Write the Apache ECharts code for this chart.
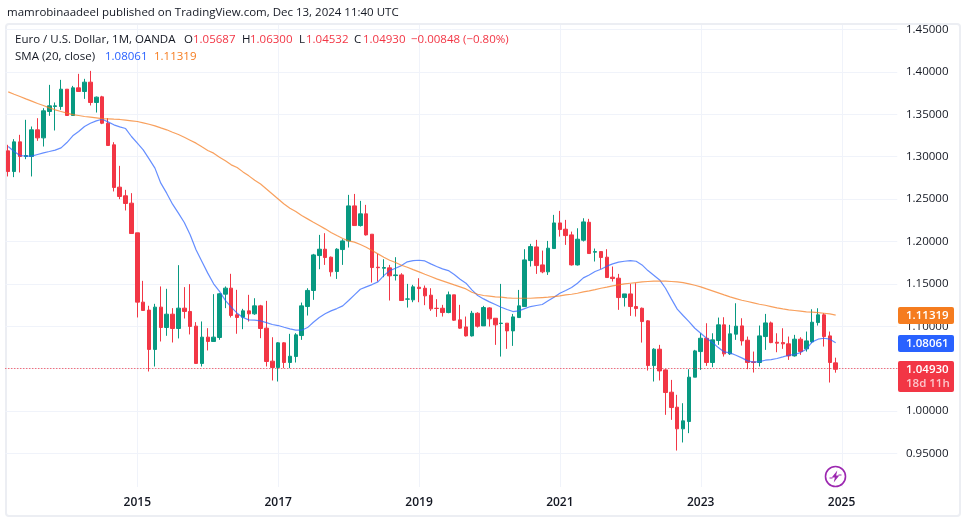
<!DOCTYPE html>
<html><head><meta charset="utf-8">
<style>html,body{margin:0;padding:0;background:#fff}#c{width:965px;height:523px}</style>
<script src="https://cdn.jsdelivr.net/npm/echarts@6/dist/echarts.min.js"></script>
</head><body><div id="c"></div>
<script>
const startYear = 2013, startMonth = 2, monthCount = 152;
const openValues = [1.3069,1.2825,1.3175,1.3002,1.3002,1.3317,1.3222,1.3533,1.3592,1.3592,
1.3796,1.3486,1.3812,1.3769,1.3879,1.3639,1.3706,1.3395,1.3140,1.2641,
1.2539,1.2452,1.2102,1.1285,1.1191,1.0727,1.1226,1.0986,1.1143,1.0974,
1.1214,1.1175,1.1002,1.0562,1.0872,1.0821,1.0868,1.1379,1.1450,1.1136,
1.1107,1.1182,1.1147,1.1241,1.0978,1.0589,1.0514,1.0805,1.0573,1.0644,
1.0891,1.1233,1.1422,1.1834,1.1909,1.1815,1.1646,1.1905,1.2007,1.2420,
1.2188,1.2326,1.2086,1.1697,1.1685,1.1689,1.1598,1.1606,1.1320,1.1312,
1.1461,1.1449,1.1367,1.1213,1.1213,1.1162,1.1371,1.1076,1.0993,1.0887,
1.1154,1.1005,1.1217,1.1095,1.1033,1.1037,1.0946,1.1103,1.1233,1.1775,
1.1936,1.1724,1.1642,1.1917,1.2219,1.2145,1.2078,1.1724,1.2015,1.2227,
1.1874,1.1881,1.1815,1.1579,1.1567,1.1339,1.1382,1.1233,1.1213,1.1064,
1.0537,1.0730,1.0486,1.0223,1.0046,0.9791,0.9877,1.0400,1.0702,1.0859,
1.0573,1.0832,1.1017,1.0675,1.0907,1.1005,1.0836,1.0581,1.0573,1.0879,
1.1040,1.0812,1.0808,1.0793,1.0651,1.0848,1.0734,1.0816,1.1044,1.1135,
1.0887,1.05687];
const closeValues = [1.2825,1.3175,1.3002,1.3014,1.3317,1.3222,1.3541,1.3600,1.3600,1.3796,
1.3486,1.3812,1.3769,1.3879,1.3639,1.3702,1.3395,1.3132,1.2637,1.2531,
1.2448,1.2094,1.1285,1.1187,1.0727,1.1226,1.0986,1.1143,1.0974,1.1214,
1.1175,1.0998,1.0562,1.0872,1.0821,1.0872,1.1383,1.1450,1.1128,1.1104,
1.1182,1.1147,1.1241,1.0974,1.0585,1.0514,1.0805,1.0573,1.0647,1.0899,
1.1241,1.1423,1.1842,1.1909,1.1811,1.1642,1.1909,1.2007,1.2420,1.2188,
1.2326,1.2078,1.1693,1.1691,1.1693,1.1595,1.1606,1.1304,1.1323,1.1465,
1.1445,1.1359,1.1206,1.1210,1.1162,1.1371,1.1072,1.0978,1.0887,1.1154,
1.1001,1.1221,1.1088,1.1017,1.1037,1.0946,1.1111,1.1241,1.1783,1.1940,
1.1716,1.1642,1.1921,1.2219,1.2141,1.2070,1.1724,1.2027,1.2231,1.1858,
1.1881,1.1811,1.1575,1.1563,1.1339,1.1382,1.1233,1.1209,1.1056,1.0537,
1.0730,1.0474,1.0219,1.0042,0.9791,0.9885,1.0400,1.0710,1.0859,1.0573,
1.0840,1.1017,1.0675,1.0911,1.1001,1.0828,1.0573,1.0573,1.0887,1.1040,
1.0808,1.0801,1.0793,1.0651,1.0848,1.0702,1.0828,1.1048,1.1135,1.0879,
1.0573,1.0493];
const highValues = [1.3140,1.3207,1.3258,1.3435,1.3356,1.3454,1.3572,1.3847,1.3639,1.3906,
1.3796,1.3835,1.3977,1.3918,1.4012,1.3710,1.3718,1.3454,1.3171,1.2892,
1.2609,1.2570,1.2102,1.1536,1.1242,1.1265,1.1470,1.1442,1.1214,1.1721,
1.1462,1.1497,1.1049,1.1057,1.0978,1.1379,1.1391,1.1470,1.1619,1.1430,
1.1206,1.1371,1.1331,1.1253,1.1300,1.0871,1.0813,1.0813,1.0911,1.0919,
1.1280,1.1449,1.1854,1.2078,1.2098,1.1823,1.1921,1.2027,1.2550,1.2561,
1.2479,1.2432,1.2086,1.1854,1.1791,1.1724,1.1815,1.1626,1.1500,1.1489,
1.1567,1.1481,1.1449,1.1320,1.1253,1.1410,1.1371,1.1253,1.1115,1.1182,
1.1166,1.1241,1.1225,1.1095,1.1500,1.1037,1.1146,1.1429,1.1909,1.1972,
1.2019,1.1893,1.2007,1.2314,1.2361,1.2255,1.2117,1.2156,1.2274,1.2267,
1.1917,1.1881,1.1909,1.1705,1.1618,1.1382,1.1500,1.1508,1.1221,1.1072,
1.0742,1.0781,1.0494,1.0368,1.0192,1.0093,1.0494,1.0722,1.0918,1.1036,
1.0918,1.1103,1.1107,1.1017,1.1272,1.1095,1.0879,1.0702,1.1009,1.1146,
1.1056,1.0918,1.0977,1.0879,1.0899,1.0871,1.0938,1.1201,1.1213,1.1154,
1.0938,1.0630];
const lowValues = [1.2767,1.2759,1.2814,1.2971,1.2767,1.3187,1.3120,1.3482,1.3309,1.3553,
1.3486,1.3486,1.3769,1.3682,1.3604,1.3521,1.3384,1.3132,1.2590,1.2499,
1.2366,1.2094,1.1104,1.1187,1.0467,1.0526,1.0821,1.0888,1.0809,1.0857,
1.1092,1.0904,1.0562,1.0526,1.0715,1.0821,1.0841,1.1214,1.1104,1.0912,
1.0966,1.1056,1.1135,1.0860,1.0526,1.0361,1.0349,1.0506,1.0506,1.0573,
1.0840,1.1127,1.1312,1.1673,1.1724,1.1587,1.1559,1.1724,1.1929,1.2188,
1.2176,1.2070,1.1516,1.1528,1.1579,1.1304,1.1540,1.1304,1.1221,1.1284,
1.1284,1.1249,1.1182,1.1111,1.1115,1.1154,1.1064,1.0970,1.0879,1.0879,
1.0985,1.1005,1.0997,1.0781,1.0643,1.0734,1.0769,1.1103,1.1233,1.1705,
1.1618,1.1626,1.1606,1.1917,1.2058,1.1960,1.1716,1.1716,1.2000,1.1858,
1.1764,1.1677,1.1575,1.1528,1.1194,1.1233,1.1123,1.1115,1.0808,1.0478,
1.0349,1.0361,0.9956,0.9897,0.9535,0.9630,0.9740,1.0400,1.0486,1.0533,
1.0518,1.0781,1.0643,1.0663,1.0840,1.0773,1.0494,1.0455,1.0526,1.0722,
1.0801,1.0694,1.0734,1.0604,1.0643,1.0663,1.0702,1.0801,1.1009,1.0761,
1.0337,1.0453];
const smaBlue = [1.3120,1.3061,1.3014,1.3006,1.3006,1.3026,1.3046,1.3061,1.3077,1.3104,
1.3167,1.3246,1.3297,1.3356,1.3395,1.3423,1.3442,1.3411,1.3376,1.3352,
1.3332,1.3238,1.3160,1.3081,1.2975,1.2865,1.2688,1.2570,1.2440,1.2334,
1.2224,1.2079,1.1902,1.1764,1.1627,1.1501,1.1411,1.1305,1.1226,1.1155,
1.1103,1.1076,1.1072,1.1064,1.1044,1.1021,1.1009,1.0989,1.0970,1.0954,
1.0954,1.0985,1.1048,1.1103,1.1147,1.1182,1.1209,1.1241,1.1304,1.1371,
1.1437,1.1465,1.1492,1.1524,1.1598,1.1657,1.1685,1.1716,1.1760,1.1775,
1.1779,1.1771,1.1736,1.1705,1.1677,1.1657,1.1610,1.1555,1.1508,1.1429,
1.1363,1.1323,1.1288,1.1257,1.1225,1.1198,1.1174,1.1182,1.1209,1.1233,
1.1245,1.1257,1.1300,1.1343,1.1390,1.1422,1.1457,1.1508,1.1571,1.1606,
1.1646,1.1673,1.1709,1.1736,1.1756,1.1767,1.1775,1.1767,1.1724,1.1657,
1.1602,1.1547,1.1449,1.1323,1.1202,1.1127,1.1056,1.0977,1.0918,1.0859,
1.0809,1.0749,1.0698,1.0687,1.0659,1.0628,1.0592,1.0577,1.0584,1.0600,
1.0608,1.0620,1.0639,1.0659,1.0667,1.0690,1.0730,1.0816,1.0848,1.0859,
1.0848,1.08061];
const smaOrange = [1.3765,1.3737,1.3710,1.3682,1.3655,1.3627,1.3604,1.3576,1.3553,1.3533,
1.3513,1.3497,1.3486,1.3474,1.3466,1.3458,1.3450,1.3446,1.3442,1.3439,
1.3431,1.3423,1.3415,1.3399,1.3383,1.3364,1.3340,1.3317,1.3289,1.3262,
1.3230,1.3195,1.3160,1.3116,1.3073,1.3042,1.2994,1.2951,1.2904,1.2872,
1.2821,1.2774,1.2722,1.2679,1.2620,1.2561,1.2502,1.2443,1.2392,1.2353,
1.2306,1.2267,1.2227,1.2188,1.2149,1.2106,1.2070,1.2035,1.2007,1.1992,
1.1964,1.1933,1.1893,1.1854,1.1815,1.1779,1.1752,1.1720,1.1697,1.1669,
1.1642,1.1614,1.1587,1.1559,1.1536,1.1512,1.1488,1.1465,1.1441,1.1402,
1.1378,1.1363,1.1355,1.1347,1.1343,1.1335,1.1331,1.1331,1.1331,1.1331,
1.1335,1.1339,1.1343,1.1351,1.1359,1.1371,1.1378,1.1390,1.1406,1.1418,
1.1433,1.1449,1.1461,1.1477,1.1489,1.1500,1.1508,1.1516,1.1524,1.1528,
1.1532,1.1532,1.1532,1.1528,1.1524,1.1516,1.1500,1.1484,1.1465,1.1441,
1.1418,1.1394,1.1370,1.1347,1.1327,1.1307,1.1292,1.1276,1.1260,1.1248,
1.1233,1.1217,1.1205,1.1194,1.1186,1.1178,1.1170,1.1166,1.1162,1.1154,
1.1146,1.11319];

const UP='#089981', DOWN='#F23645', BLUE='#2962FF', ORANGE='#F57C1F', INK='#131722', GRID='#f0f3fa';
const FONT='"Open Sans","Noto Sans",sans-serif';
const categories=[]; for(let k=0;k<monthCount;k++){const m=startMonth+k;categories.push((startYear+Math.floor(m/12))+'-'+String(m%12+1).padStart(2,'0'));}
const isOddJan=(i)=>{const c=categories[i];return c.endsWith('-01')&&(+c.slice(0,4))%2===1;};
const ohlc=openValues.map((o,i)=>[o,closeValues[i],lowValues[i],highValues[i]]);

function t(x,y,text,fill,extra){return {type:'text',x:x,y:y,z:50,style:Object.assign({text:text,fill:fill||INK,font:'11.5px '+FONT,textVerticalAlign:'middle'},extra||{})};}
const chart=echarts.init(document.getElementById('c'),null,{renderer:'canvas'});
const frameGraphics=[
  {type:'rect',z:-1,silent:true,shape:{x:6,y:24,width:954,height:492,r:3},style:{fill:'none',stroke:'#eceef3',lineWidth:2}},
  t(7,13,'mamrobinaadeel published on TradingView.com, Dec 13, 2024 11:40 UTC'),
  t(15,40,'Euro / U.S. Dollar, 1M, OANDA'),
  t(184,40,'O'),t(193,40,'1.05687',DOWN),
  t(242,40,'H'),t(250,40,'1.06300',DOWN),
  t(299,40,'L'),t(306,40,'1.04532',DOWN),
  t(354,40,'C'),t(363,40,'1.04930',DOWN),
  t(411,40,'\u22120.00848 (\u22120.80%)',DOWN),
  t(15,57,'SMA (20, close)'),t(105,57,'1.08061',BLUE),t(154,57,'1.11319',ORANGE),
  {type:'rect',z:40,shape:{x:898,y:307,width:56,height:17,r:2},style:{fill:ORANGE}},
  t(906,315.7,'1.11319','#fff',{font:'600 11.5px '+FONT}),
  {type:'rect',z:40,shape:{x:898,y:335,width:56,height:17,r:2},style:{fill:BLUE}},
  t(906,343.5,'1.08061','#fff',{font:'600 11.5px '+FONT}),
  {type:'rect',z:40,shape:{x:898,y:361,width:56,height:31,r:2},style:{fill:DOWN}},
  t(906,369.5,'1.04930','#fff',{font:'600 11.5px '+FONT}),
  t(906,383.5,'18d 11h','rgba(255,255,255,.72)',{font:'600 11.5px '+FONT}),
  {type:'circle',z:40,shape:{cx:835.5,cy:476.5,r:10},style:{fill:'#fff',stroke:'#9C27B0',lineWidth:1.6}},
  {type:'polygon',z:41,x:835.5,y:476.5,shape:{points:[[1.8,-6],[-3.8,1],[-0.6,1],[-1.8,6],[3.8,-1],[0.6,-1]]},style:{fill:'#9C27B0'}},
  {type:'line',z:41,x:835.5,y:476.5,shape:{x1:-6,y1:1.5,x2:-3,y2:1.5},style:{stroke:'#9C27B0',lineWidth:1}},
  {type:'line',z:41,x:835.5,y:476.5,shape:{x1:3,y1:-1.5,x2:6,y2:-1.5},style:{stroke:'#9C27B0',lineWidth:1}}
];
chart.setOption({
 animation:false,backgroundColor:'#fff',
 grid:{left:5.3,top:29.5,width:892,height:424,containLabel:false},
 xAxis:{type:'category',data:categories,boundaryGap:true,
  axisLine:{show:false},axisTick:{show:false},splitLine:{show:false},
  axisLabel:{interval:(i)=>isOddJan(i),formatter:(v)=>v.slice(0,4),color:INK,fontFamily:FONT,fontSize:12,fontWeight:600,margin:43}},
 yAxis:{type:'value',position:'right',min:0.95,max:1.45,interval:0.05,
  axisLine:{show:false},axisTick:{show:false},
  splitLine:{lineStyle:{color:GRID,width:1}},
  axisLabel:{color:INK,fontFamily:FONT,fontSize:11.5,margin:8.7,formatter:(v)=>v.toFixed(5)}},
 series:[
  {type:'candlestick',data:ohlc,barWidth:4,z:3,
   itemStyle:{color:UP,color0:DOWN,borderColor:UP,borderColor0:DOWN,borderColorDoji:DOWN,borderWidth:1},
   markLine:{silent:true,symbol:'none',label:{show:false},animation:false,
     lineStyle:{color:DOWN,type:[1,2],width:1,opacity:1},data:[{yAxis:closeValues[closeValues.length-1]}]}},
  {type:'line',data:smaBlue,showSymbol:false,smooth:false,z:4,lineStyle:{color:BLUE,width:1.2,opacity:.72}},
  {type:'line',data:smaOrange,showSymbol:false,smooth:false,z:4,lineStyle:{color:ORANGE,width:1.2,opacity:.72}}
 ],
 graphic:frameGraphics
});
// Vertical year gridlines run past the price range, up to the frame and down to the time scale.
const yearLines=[];
categories.forEach((c,i)=>{ if(isOddJan(i)){ const px=Math.round(chart.convertToPixel({xAxisIndex:0},c))+.5;
  yearLines.push({type:'line',z:-1,silent:true,shape:{x1:px,y1:25,x2:px,y2:487},style:{stroke:GRID,lineWidth:1}}); }});
chart.setOption({graphic:frameGraphics.concat(yearLines)});
</script></body></html>
